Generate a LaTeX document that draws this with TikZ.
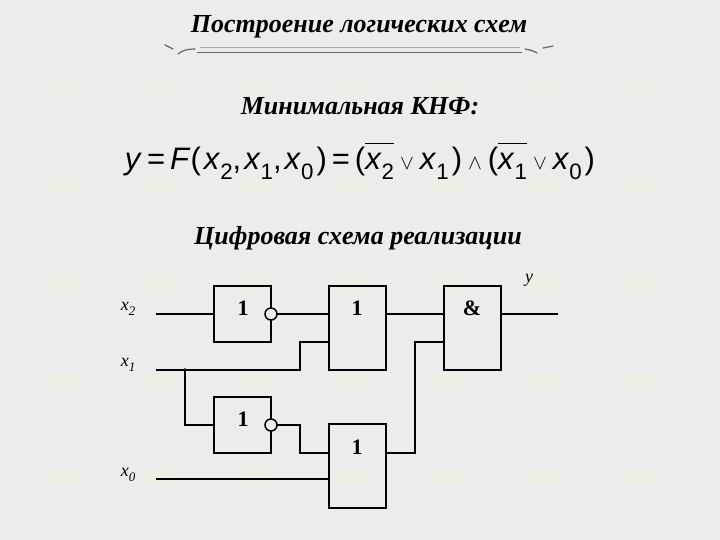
\documentclass[tikz,border=0pt]{standalone}
\usepackage{fontspec}
\usepackage{graphicx}
\setmainfont{Liberation Serif}
\setsansfont{Liberation Sans}
\usetikzlibrary{positioning}
\definecolor{paper}{RGB}{236,236,234}
\definecolor{tile}{RGB}{238,238,230}
\newcommand{\fvar}[2]{\textit{#1}\raisebox{-.3em}{\scalebox{.72}{#2}}}
\newcommand{\barred}[1]{\vbox{\hrule height 1.2pt\kern 9.5pt\hbox{#1}}}
\newcommand{\gap}{\hspace{3pt}}
\newcommand{\wgap}{\hspace{5pt}}
\newcommand{\lgap}{\hspace{6pt}}
\begin{document}
\begin{tikzpicture}[x=1pt,y=-1pt,thick,
	wire/.style={line width=1.9pt},
	gate node/.style={draw,line width=1.9pt,minimum width=57pt,inner sep=0pt,outer sep=0pt},
	gate text/.style={font=\bfseries\fontsize{22}{22}\selectfont,inner sep=0pt},
	not node/.style={circle,draw,fill=paper,line width=1.5pt,minimum size=12pt,inner sep=0pt,outer sep=0pt},
	head text/.style={font=\bfseries\itshape\fontsize{26}{26}\selectfont,inner sep=0pt},
	pin text/.style={font=\itshape\fontsize{18}{18}\selectfont,inner sep=0pt},
	swash/.style={gray!80!black,line width=1.2pt,line cap=round}]
	\fill[paper] (0,0) rectangle (720,540);
	\useasboundingbox (0,0) rectangle (720,540);
	% faint tiles of the paper
	\foreach \col in {0,...,7}
		\foreach \row in {0,...,5}
			\fill[tile] (48+96*\col,-17+97*\row) rectangle +(32,15);

	\node[head text] at (359,27) (title) {Построение логических схем};
	\draw[gray!70,line width=.7pt] (200,47.5) -- (520,47.5);
	\draw[gray!80!black,line width=1.2pt] (197,52.7) -- (522,52.7);
	\draw[swash] (165,45) -- (173,49);
	\draw[swash] (178,54) .. controls (183,50) and (188,49) .. (195,49);
	\draw[swash] (525,49) .. controls (530,50) and (534,51) .. (537,53);
	\draw[swash] (543,48) -- (553,46);
	\node[head text] at (360,106) (knf) {Минимальная КНФ:};
	\node[font=\sffamily\fontsize{31}{31}\selectfont,inner sep=0pt,anchor=base] at (360,170) (formula)
		{\textit{y}\wgap=\wgap\textit{F}(\gap\fvar{x}{2},\gap\fvar{x}{1},\gap\fvar{x}{0}\gap)\wgap=\wgap(\barred{\fvar{x}{2}}\lgap$\scriptstyle\vee$\lgap\fvar{x}{1}\gap)\lgap$\scriptstyle\wedge$\lgap(\barred{\fvar{x}{1}}\lgap$\scriptstyle\vee$\lgap\fvar{x}{0}\gap)};
	\node[head text] at (358,238) (scheme) {Цифровая схема реализации};

	\node[gate node,minimum height=56pt] at (242.5,314) (a) {};
	\node[gate node,minimum height=84pt] at (357.5,328) (b) {};
	\node[gate node,minimum height=84pt] at (472.5,328) (c) {};
	\node[gate node,minimum height=56pt] at (242.5,425) (d) {};
	\node[gate node,minimum height=84pt] at (357.5,466) (e) {};
	\node[not node] at (a.east) (na) {};
	\node[not node] at (d.east) (nd) {};
	\node[gate text] at (243,308) (ta) {1};
	\node[gate text] at (357,308) (tb) {1};
	\node[gate text] at (472,308) (tc) {\&};
	\node[gate text] at (243,419) (td) {1};
	\node[gate text] at (357,447) (te) {1};

	\node[pin text] at (128,309) (lx2) {\fvar{x}{2}};
	\node[pin text] at (128,365) (lx1) {\fvar{x}{1}};
	\node[pin text] at (128,475) (lx0) {\fvar{x}{0}};
	\node[pin text] at (529,280) (ly) {y};

	\coordinate (x2) at (156,314);
	\coordinate (x1) at (156,370);
	\coordinate (x0) at (156,479);
	\coordinate (y) at (558,314);
	\coordinate (fork) at (185,370);
	\coordinate (bin) at (329,342);
	\coordinate (cin) at (444,342);
	\coordinate (ein) at (329,453);
	\coordinate (eout) at (386,453);
	\coordinate (ezero) at (329,479);

	\draw[wire] (x2) -- (a.west);
	\draw[wire] (na) -- (na -| b.west);
	\draw[wire] (b.east |- na) -- (c.west |- na);
	\draw[wire] (c.east |- na) -- (y);
	\draw[wire] (x1) -- (300,370) |- (bin);
	\draw[wire] (fork) |- (d.west);
	\fill (fork) circle (1.8pt);
	\draw[wire] (nd) -| (300,453) -- (ein);
	\draw[wire] (x0) -- (ezero);
	\draw[wire] (eout) -| (415,342) -- (cin);
\end{tikzpicture}
\end{document}
